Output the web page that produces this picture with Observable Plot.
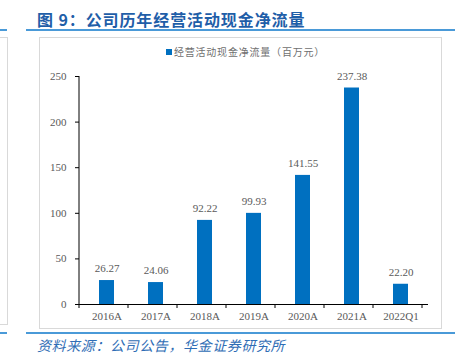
<!DOCTYPE html>
<html>
<head>
<meta charset="utf-8">
<script src="https://cdn.jsdelivr.net/npm/d3@7"></script>
<script src="https://cdn.jsdelivr.net/npm/@observablehq/plot@0.6"></script>
<style>
  html, body { margin: 0; padding: 0; background: #fff; }
  body { width: 455px; height: 363px; position: relative; overflow: hidden; font-family: "Noto Sans CJK SC", sans-serif; }
  .title { position: absolute; left: 37px; top: 9px; font-size: 16px; font-weight: bold; color: #1f5ea8; letter-spacing: 0.9px; white-space: nowrap; line-height: 20px; }
  .hline { position: absolute; height: 0; border-top: 2px solid #4a9ad8; }
  .box { position: absolute; border: 1px solid #d9d9d9; box-sizing: border-box; }
  .legend { position: absolute; left: 0; width: 491px; top: 44px; text-align: center; font-size: 10px; color: #6f6f6f; letter-spacing: 0.8px; white-space: nowrap; line-height: 16px; }
  .legend .sw { display: inline-block; width: 6px; height: 6px; background: #0070c0; margin-right: 2px; vertical-align: 1px; }
  #chart { position: absolute; left: 0; top: 60px; }
  .source { position: absolute; left: 37px; top: 336px; font-size: 14px; font-style: italic; color: #2f6db5; letter-spacing: 0.6px; white-space: nowrap; line-height: 18px; }
</style>
</head>
<body>
<div class="hline" style="left:0;width:7px;top:29px"></div>
<div class="hline" style="left:26px;width:429px;top:29px"></div>
<div class="box" style="left:-2px;top:37px;width:10px;height:288px"></div>
<div class="box" style="left:39px;top:37px;width:403px;height:292px"></div>
<div class="hline" style="left:0;width:7px;top:332px"></div>
<div class="hline" style="left:26px;width:429px;top:332px"></div>
<div class="title">图 9：公司历年经营活动现金净流量</div>
<div class="legend"><span class="sw"></span>经营活动现金净流量（百万元）</div>
<div id="chart"></div>
<div class="source">资料来源：公司公告，华金证券研究所</div>
<script>
const categories = ["2016A", "2017A", "2018A", "2019A", "2020A", "2021A", "2022Q1"];
const values = [26.27, 24.06, 92.22, 99.93, 141.55, 237.38, 22.20];
const yTicks = [0, 50, 100, 150, 200, 250];

const data = categories.map((c, i) => ({cat: c, value: values[i]}));
const font = "'Liberation Serif', 'DejaVu Serif', serif";

const plot = Plot.plot({
  width: 455,
  height: 268,
  marginLeft: 79,
  marginRight: 27,
  marginTop: 16,
  marginBottom: 24,
  style: {background: "transparent", fontFamily: font, fontSize: "11px", color: "#595959", overflow: "visible"},
  x: {domain: categories, paddingInner: 0.7, paddingOuter: 0.35, label: null},
  y: {domain: [0, 250], label: null},
  marks: [
    Plot.barY(data, {x: "cat", y: "value", fill: "#0070c0"}),
    Plot.text(data, {x: "cat", y: "value", text: d => d.value.toFixed(2), dy: -12, fill: "#595959", fontSize: 11, style: "letter-spacing:0.6px"}),
    Plot.axisY(yTicks, {tickSize: 4, tickPadding: 9, stroke: "#000", fill: "#595959", fontSize: 11}),
    Plot.axisX({tickSize: 0, tickPadding: 8, fill: "#595959", fontSize: 11}),
    Plot.ruleY([0], {stroke: "#000", strokeWidth: 1})
  ]
});
document.getElementById("chart").appendChild(plot);

// y axis line and category-boundary ticks, positioned from the plot's own scales
const xs = plot.scale("x");
const ys = plot.scale("y");
const svg = d3.select(plot);
const x0 = xs.range[0];
const yBase = ys.range[0];
svg.append("line")
  .attr("x1", x0).attr("x2", x0)
  .attr("y1", ys.range[1]).attr("y2", yBase)
  .attr("stroke", "#000");
const bounds = d3.range(categories.length + 1).map(i => x0 + i * xs.step);
svg.append("g").selectAll("line").data(bounds).join("line")
  .attr("x1", d => d).attr("x2", d => d)
  .attr("y1", yBase).attr("y2", yBase + 4)
  .attr("stroke", "#000");
</script>
</body>
</html>
